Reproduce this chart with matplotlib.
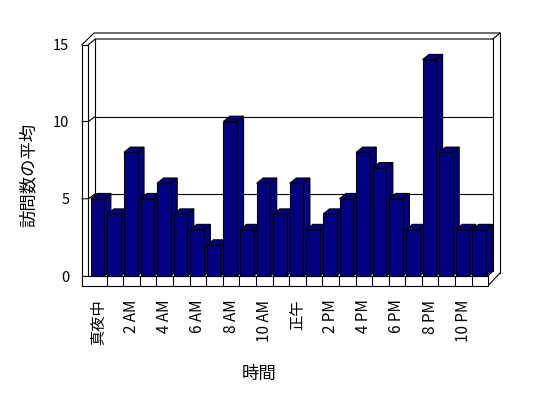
import matplotlib
matplotlib.use("Agg")
import matplotlib.pyplot as plt
from matplotlib.patches import Polygon

plt.rcParams['font.family'] = ['Noto Sans CJK JP', 'DejaVu Sans']

# ---- data ----
hours = list(range(24))
visits = [5, 4, 8, 5, 6, 4, 3, 2, 10, 3, 6, 4, 6, 3, 4, 5, 8, 7, 5, 3, 14, 8, 3, 3]
tick_pos = [0, 2, 4, 6, 8, 10, 12, 14, 16, 18, 20, 22]
tick_labels = ['真夜中', '2 AM', '4 AM', '6 AM', '8 AM', '10 AM', '正午',
               '2 PM', '4 PM', '6 PM', '8 PM', '10 PM']
y_ticks = [0, 5, 10, 15]
x_label = '時間'
y_label = '訪問数の平均'

W, H = 548, 398
fig = plt.figure(figsize=(W / 100, H / 100), dpi=100)

# plot area (front plane) in pixels
L, R, B, T = 90.1, 488.2, 276.0, 44.25
ax = fig.add_axes([L / W, 1 - B / H, (R - L) / W, (B - T) / H])
ax.set_xlim(-0.5, 23.5)
ax.set_ylim(0, 15)
for s in ax.spines.values():
    s.set_visible(False)
ax.patch.set_alpha(0)

CAT = (R - L) / 24.0
UNIT = (B - T) / 15.0


def px(xp, yp):
    return ((xp - L) / CAT - 0.5, (B - yp) / UNIT)


def line(pts, z=1, lw=0.8):
    xs, ys = zip(*[px(*p) for p in pts])
    ax.plot(xs, ys, color='black', lw=lw, clip_on=False, zorder=z,
            solid_capstyle='projecting')


# back wall
bw = [px(95.3, 39), px(493, 39), px(493, 271), px(95.3, 271)]
ax.add_patch(Polygon(bw, closed=True, facecolor='white', edgecolor='none',
                     zorder=0, clip_on=False))
for v in [5, 10]:
    yb = B - v * UNIT - 5
    yf = B - v * UNIT
    line([(95.3, yb), (493, yb)])
    line([(82, yf), (88.3, yf), (95.3, yb)])
line([(82, B), (88.3, B)])

# frame
line([(82, 44.7), (94, 33), (500, 33)])
line([(88.3, 44.7), (95.3, 39), (493, 39)])
line([(82, 44.7), (88.3, 44.7)])
line([(82, 44.7), (82, 286)])
line([(88.3, 44.7), (88.3, 276)])
line([(95.3, 39), (95.3, 271)])
line([(493, 39), (500, 33)])
line([(500, 33), (500, 273)])
line([(493, 39), (493, 271)])
line([(487.7, 276), (493, 271)])
line([(487.7, 286), (500, 273)])

# floor front face
fl = [px(82, 276), px(487.7, 276), px(487.7, 286), px(82, 286)]
ax.add_patch(Polygon(fl, closed=True, facecolor='white', edgecolor='black',
                     lw=0.8, zorder=2, clip_on=False))
y_floor = px(0, 286)[1]
for k in range(23):
    ax.plot([k + 0.5, k + 0.5], [0, y_floor], color='black', lw=0.8,
            clip_on=False, zorder=2)

# bars (3D look)
w = 0.82
shift = -0.05
ddx = 6.5 / CAT
ddy = 5.3 / UNIT
navy = '#000080'
for i, v in zip(hours, visits):
    z = 3 + i * 0.01
    x0 = i + shift - w / 2
    x1 = i + shift + w / 2
    side = [(x1, 0), (x1 + ddx, ddy), (x1 + ddx, v + ddy), (x1, v)]
    top = [(x0, v), (x0 + ddx, v + ddy), (x1 + ddx, v + ddy), (x1, v)]
    ax.add_patch(Polygon(side, closed=True, facecolor=navy, edgecolor='black',
                         lw=0.8, zorder=z, clip_on=False))
    ax.add_patch(Polygon(top, closed=True, facecolor=navy, edgecolor='black',
                         lw=0.8, zorder=z, clip_on=False))
    ax.bar(i + shift, v, width=w, color=navy, edgecolor='black', lw=0.8,
           zorder=z + 0.005, clip_on=False)

ax.set_xticks(tick_pos)
ax.set_xticklabels(tick_labels, rotation=90, fontsize=11)
ax.set_yticks(y_ticks)
ax.set_yticklabels([str(t) for t in y_ticks], fontsize=10.5)
ax.tick_params(axis='x', length=0, pad=17)
ax.tick_params(axis='y', length=0, pad=15)

fig.text(29 / W, 1 - 174.5 / H, y_label, rotation=90, ha='center', va='center',
         fontsize=12.5)
fig.text(259 / W, 1 - 374 / H, x_label, ha='center', va='center', fontsize=12.5)

fig.savefig('out.png', dpi=100)
